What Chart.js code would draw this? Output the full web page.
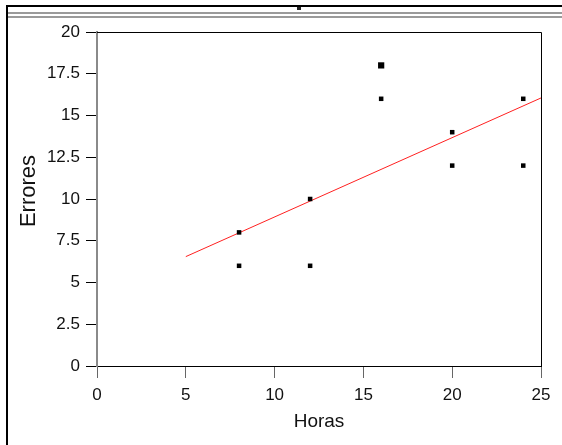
<!DOCTYPE html>
<html>
<head>
<meta charset="utf-8">
<script src="https://cdn.jsdelivr.net/npm/chart.js@4.4.1/dist/chart.umd.min.js"></script>
<style>
  html, body { margin: 0; padding: 0; background: #fff; }
  #wrap { position: relative; width: 562px; height: 445px; overflow: hidden; }
  #chart { position: absolute; left: 0; top: 0; }
  .frame { position: absolute; }
</style>
</head>
<body>
<div id="wrap">
  <canvas id="chart" width="562" height="445"></canvas>
  <!-- window frame around the pasted plot -->
  <div class="frame" style="left:6px; top:5px; width:2px; height:440px; background:#000;"></div>
  <div class="frame" style="left:6px; top:5px; width:556px; height:2px; background:#000;"></div>
  <div class="frame" style="left:8px; top:12px; width:554px; height:2px; background:#9a9a9a;"></div>
  <div class="frame" style="left:8px; top:16px; width:554px; height:2px; background:#9a9a9a;"></div>
  <div class="frame" style="left:297px; top:7px; width:4px; height:3px; background:#222;"></div>
</div>
<script>
// ============================================================================
// Data
// ============================================================================

const HORAS   = [8, 8, 12, 12, 16, 16, 20, 20, 24, 24];
const ERRORES = [6, 8, 6, 10, 16, 18, 12, 14, 12, 16];

// fitted line, end points
const FIT_X = [5, 25];
const FIT_Y = [6.55, 16.05];

const X_TICKS = [0, 5, 10, 15, 20, 25];
const Y_TICKS = [0, 2.5, 5, 7.5, 10, 12.5, 15, 17.5, 20];

const X_TITLE = 'Horas';
const Y_TITLE = 'Errores';

const FONT = "'Liberation Sans', Arial, sans-serif";

// ============================================================================
// Helpers
// ============================================================================

function toPoints(xs, ys) {
  return xs.map((x, i) => ({ x: x, y: ys[i] }));
}

// top and right edges of the plot box, plus the y title
// (drawn by hand so it can sit a bit above the axis centre, like the original)
const boxPlugin = {
  id: 'box',
  afterDraw(chart) {
    const { ctx, chartArea } = chart;
    ctx.save();
    ctx.strokeStyle = '#000';
    ctx.lineWidth = 1;
    ctx.beginPath();
    ctx.moveTo(chartArea.left, chartArea.top + 0.5);
    ctx.lineTo(chartArea.right + 0.5, chartArea.top + 0.5);
    ctx.lineTo(chartArea.right + 0.5, chartArea.bottom);
    ctx.stroke();

    ctx.translate(29, (chartArea.top + chartArea.bottom) / 2 - 8);
    ctx.rotate(-Math.PI / 2);
    ctx.fillStyle = '#111';
    ctx.font = '22px ' + FONT;
    ctx.textAlign = 'center';
    ctx.textBaseline = 'middle';
    ctx.fillText(Y_TITLE, 0, 0);
    ctx.restore();
  }
};

// ============================================================================
// Chart
// ============================================================================

new Chart(document.getElementById('chart'), {
  type: 'scatter',
  data: {
    datasets: [
      {
        label: Y_TITLE,
        data: toPoints(HORAS, ERRORES),
        pointStyle: 'rect',
        backgroundColor: '#000',
        borderWidth: 0,
        pointRadius: ctx => (ctx.raw && ctx.raw.y === 18 ? 4.4 : 3.2)
      },
      {
        label: 'Ajuste',
        type: 'line',
        data: toPoints(FIT_X, FIT_Y),
        borderColor: '#ff2020',
        borderWidth: 1,
        pointRadius: 0,
        fill: false
      }
    ]
  },
  options: {
    responsive: false,
    animation: false,
    events: [],
    layout: { padding: { left: 0, top: 32, right: 21, bottom: 0 } },
    plugins: {
      legend: { display: false },
      tooltip: { enabled: false }
    },
    scales: {
      x: {
        type: 'linear',
        min: 0,
        max: 25,
        afterFit: s => { s.height = 79; },
        afterBuildTicks: s => { s.ticks = X_TICKS.map(v => ({ value: v })); },
        border: { color: '#000', width: 1 },
        grid: { drawOnChartArea: false, tickLength: 12, color: '#666', lineWidth: 1 },
        ticks: { color: '#111', padding: 7, font: { family: FONT, size: 17 } },
        title: {
          display: true,
          text: X_TITLE,
          color: '#111',
          font: { family: FONT, size: 19 },
          padding: { top: 0, bottom: 12 }
        }
      },
      y: {
        type: 'linear',
        min: 0,
        max: 20,
        afterFit: s => { s.width = 97; },
        afterBuildTicks: s => { s.ticks = Y_TICKS.map(v => ({ value: v })); },
        border: { color: '#8a8a8a', width: 2 },
        grid: { drawOnChartArea: false, tickLength: 11, color: '#000', lineWidth: 1 },
        ticks: { color: '#111', padding: 6, font: { family: FONT, size: 17 } },
        title: { display: false }
      }
    }
  },
  plugins: [boxPlugin]
});
</script>
</body>
</html>
